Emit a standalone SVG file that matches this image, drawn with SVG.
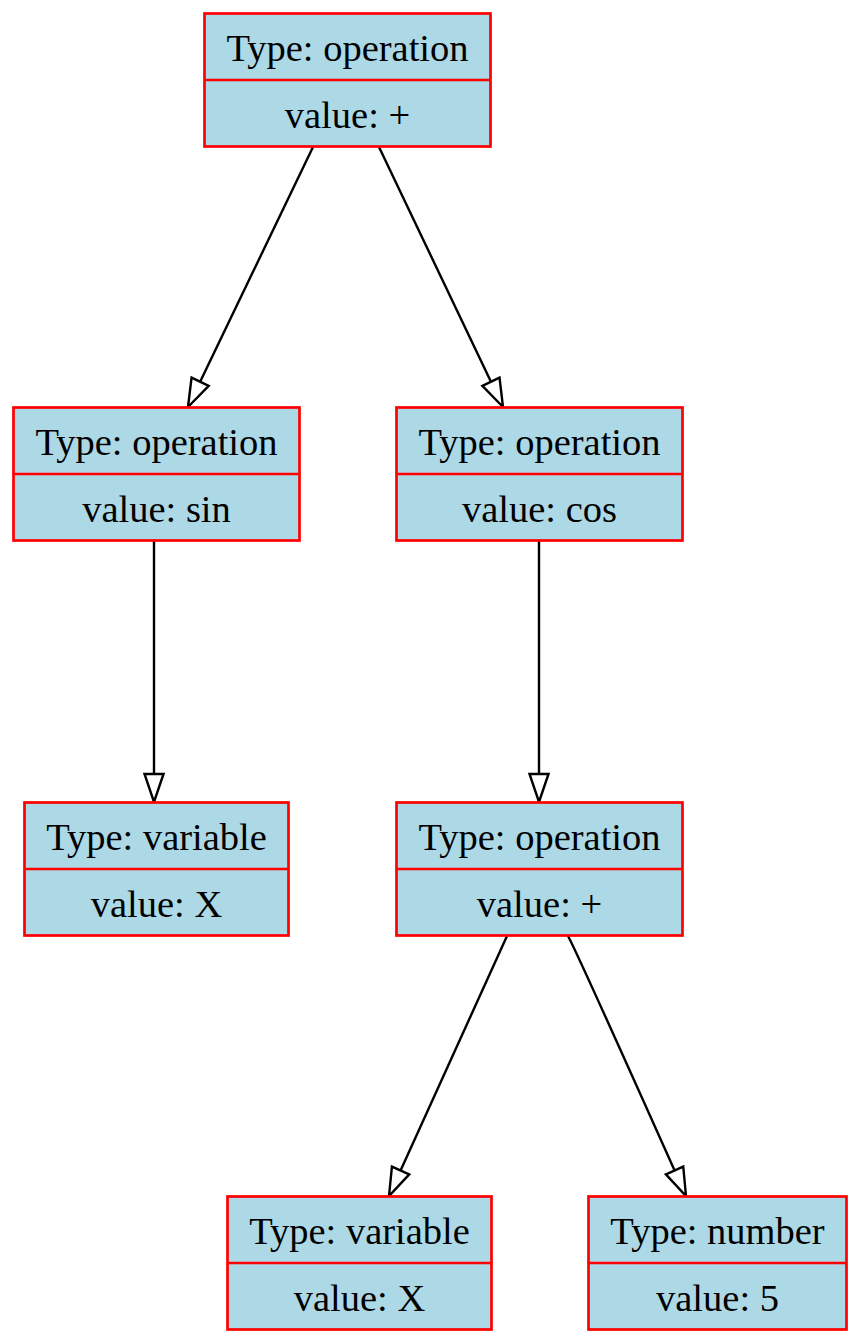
<svg xmlns="http://www.w3.org/2000/svg" width="858" height="1344" viewBox="0 0 858 1344">
  <style>
    .box { fill: #add8e6; stroke: #ff0000; stroke-width: 2.7; }
    .div { stroke: #ff0000; stroke-width: 2.7; }
    .lbl { font-family: "Liberation Serif", "Times New Roman", serif; font-size: 38.5px; fill: #000; text-anchor: middle; }
    .edge { fill: none; stroke: #000; stroke-width: 2.4; marker-end: url(#open); }
  </style>
  <defs>
    <marker id="open" markerUnits="userSpaceOnUse" markerWidth="34" markerHeight="26" viewBox="-2 -12 34 24" refX="28" refY="0" orient="auto">
      <path d="M0,-9.5 L28,0 L0,9.5 Z" fill="#fff" stroke="#000" stroke-width="2.4"/>
    </marker>
  </defs>
  <rect width="858" height="1344" fill="#fff"/>

  <g id="edges">
    <path class="edge" d="M313,147 L188,407"/>
    <path class="edge" d="M379,147 L503,407"/>
    <path class="edge" d="M154,541 L154,802"/>
    <path class="edge" d="M539,541 L539,802"/>
    <path class="edge" d="M507,936 L389,1196"/>
    <path class="edge" d="M568,936 Q576,950 686,1196"/>
  </g>

  <g id="n_root">
    <rect class="box" x="204.5" y="13.5" width="286" height="133"/>
    <line class="div" x1="204.5" y1="80" x2="490.5" y2="80"/>
    <text class="lbl" x="347.5" y="61">Type: operation</text>
    <text class="lbl" x="347.5" y="128">value: +</text>
  </g>

  <g id="n_sin">
    <rect class="box" x="13.5" y="407.5" width="286" height="133"/>
    <line class="div" x1="13.5" y1="474" x2="299.5" y2="474"/>
    <text class="lbl" x="156.5" y="455">Type: operation</text>
    <text class="lbl" x="156.5" y="522">value: sin</text>
  </g>

  <g id="n_cos">
    <rect class="box" x="396.5" y="407.5" width="286" height="133"/>
    <line class="div" x1="396.5" y1="474" x2="682.5" y2="474"/>
    <text class="lbl" x="539.5" y="455">Type: operation</text>
    <text class="lbl" x="539.5" y="522">value: cos</text>
  </g>

  <g id="n_x1">
    <rect class="box" x="24.5" y="802.5" width="264" height="133"/>
    <line class="div" x1="24.5" y1="869" x2="288.5" y2="869"/>
    <text class="lbl" x="156.5" y="850">Type: variable</text>
    <text class="lbl" x="156.5" y="917">value: X</text>
  </g>

  <g id="n_plus">
    <rect class="box" x="396.5" y="802.5" width="286" height="133"/>
    <line class="div" x1="396.5" y1="869" x2="682.5" y2="869"/>
    <text class="lbl" x="539.5" y="850">Type: operation</text>
    <text class="lbl" x="539.5" y="917">value: +</text>
  </g>

  <g id="n_x2">
    <rect class="box" x="227.5" y="1196.5" width="264" height="133"/>
    <line class="div" x1="227.5" y1="1263" x2="491.5" y2="1263"/>
    <text class="lbl" x="359.5" y="1244">Type: variable</text>
    <text class="lbl" x="359.5" y="1311">value: X</text>
  </g>

  <g id="n_num">
    <rect class="box" x="588.5" y="1196.5" width="258" height="133"/>
    <line class="div" x1="588.5" y1="1263" x2="846.5" y2="1263"/>
    <text class="lbl" x="717.5" y="1244">Type: number</text>
    <text class="lbl" x="717.5" y="1311">value: 5</text>
  </g>
</svg>
